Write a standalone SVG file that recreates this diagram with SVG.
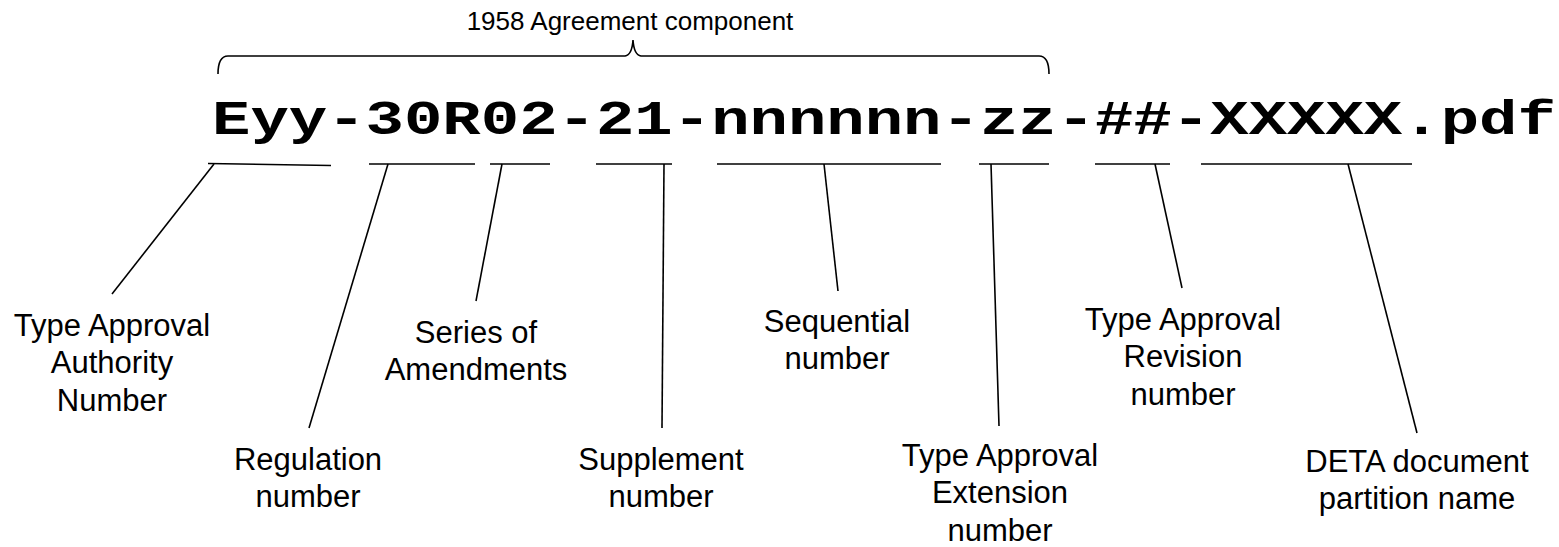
<svg xmlns="http://www.w3.org/2000/svg" width="1559" height="547" viewBox="0 0 1559 547">
<style>
.lbl{font-family:"Liberation Sans",Arial,sans-serif;font-size:31px;fill:#000;text-anchor:middle}
.title{font-family:"Liberation Sans",Arial,sans-serif;font-size:26px;fill:#000;text-anchor:middle}
.code{font-family:"Liberation Mono","Courier New",monospace;font-weight:bold;font-size:64px;fill:#000}
.ln{stroke:#000;stroke-width:1.6;fill:none}
</style>
<rect width="1559" height="547" fill="#fff"/>
<g id="title">
<text class="title" x="630" y="29.5">1958 Agreement component</text>
<path class="ln" stroke-width="2" d="M218,74 Q218,56 228,56 L625,56 Q632,55 633,40 Q634,55 641,56 L1039,56 Q1049,56 1049,74"/>
</g>
<g id="code">
<text class="code" transform="translate(212,134) scale(1,0.74)" x="0" y="0">Eyy-30R02-21-nnnnnn-zz-##-XXXXX.pdf</text>
</g>
<g id="connectors">
<line class="ln" x1="208" y1="163.5" x2="331" y2="165.5"/>
<line class="ln" x1="214" y1="164" x2="112" y2="294"/>
<line class="ln" x1="369" y1="164" x2="475" y2="164"/>
<line class="ln" x1="388" y1="164" x2="309" y2="428"/>
<line class="ln" x1="490" y1="164" x2="550" y2="164"/>
<line class="ln" x1="502" y1="164" x2="476" y2="301"/>
<line class="ln" x1="596" y1="164" x2="672" y2="164"/>
<line class="ln" x1="664" y1="164" x2="662" y2="428"/>
<line class="ln" x1="717" y1="164" x2="941" y2="164"/>
<line class="ln" x1="824" y1="164" x2="838" y2="291"/>
<line class="ln" x1="979" y1="164" x2="1049" y2="164"/>
<line class="ln" x1="991" y1="164" x2="999" y2="426"/>
<line class="ln" x1="1095" y1="164" x2="1170" y2="164"/>
<line class="ln" x1="1155" y1="164" x2="1182" y2="288"/>
<line class="ln" x1="1201" y1="164" x2="1412" y2="164"/>
<line class="ln" x1="1348" y1="164" x2="1417" y2="433"/>
</g>
<g id="n-authority"><text class="lbl" x="112" y="336">Type Approval<tspan x="112" dy="37.3">Authority</tspan><tspan x="112" dy="37.3">Number</tspan></text></g>
<g id="n-regulation"><text class="lbl" x="308" y="470">Regulation<tspan x="308" dy="37.3">number</tspan></text></g>
<g id="n-series"><text class="lbl" x="476" y="343">Series of<tspan x="476" dy="37.3">Amendments</tspan></text></g>
<g id="n-supplement"><text class="lbl" x="661" y="470">Supplement<tspan x="661" dy="37.3">number</tspan></text></g>
<g id="n-sequential"><text class="lbl" x="837" y="332">Sequential<tspan x="837" dy="37.3">number</tspan></text></g>
<g id="n-extension"><text class="lbl" x="1000" y="466">Type Approval<tspan x="1000" dy="37.3">Extension</tspan><tspan x="1000" dy="37.3">number</tspan></text></g>
<g id="n-revision"><text class="lbl" x="1183" y="330">Type Approval<tspan x="1183" dy="37.3">Revision</tspan><tspan x="1183" dy="37.3">number</tspan></text></g>
<g id="n-deta"><text class="lbl" x="1417" y="472">DETA document<tspan x="1417" dy="37.3">partition name</tspan></text></g>
</svg>
